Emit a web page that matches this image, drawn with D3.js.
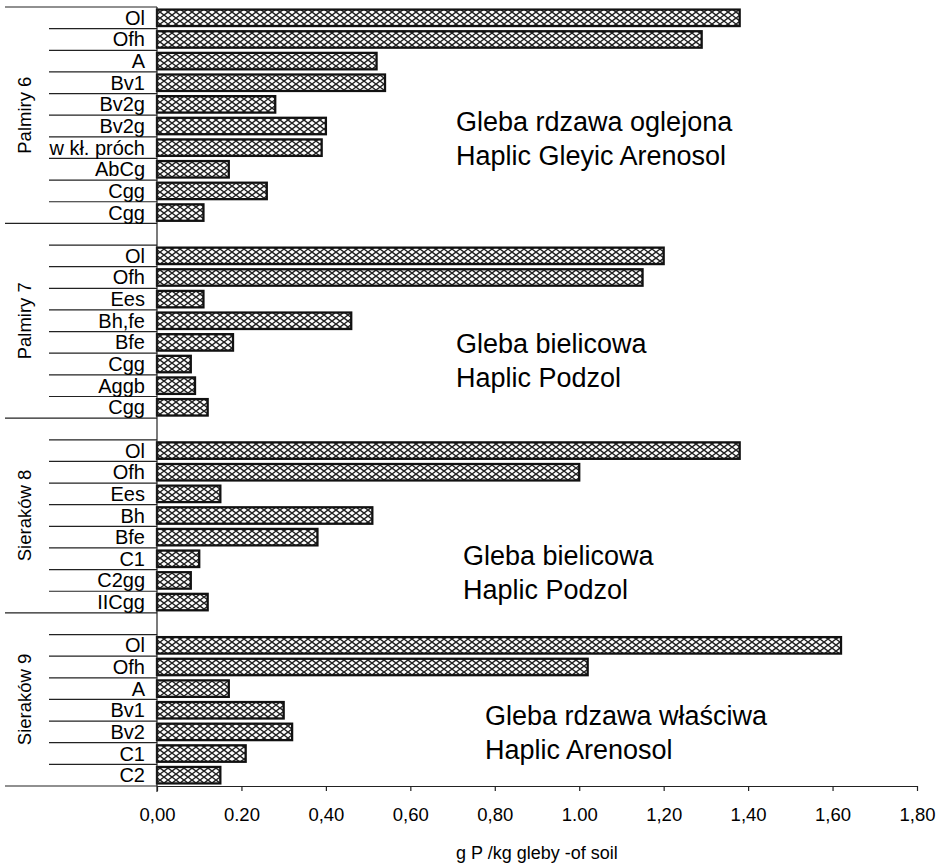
<!DOCTYPE html>
<html lang="pl">
<head>
<meta charset="UTF-8">
<title>g P/kg gleby</title>
<script src="https://cdn.jsdelivr.net/npm/d3@7"></script>
<style>
    body { margin: 0; background: #fff; }
    svg { display: block; font-family: "Liberation Sans", Arial, sans-serif; }
</style>
</head>
<body>
<div id="chart"></div>
<script>
// profiles (groups) and their horizons
var groupNames = ["Palmiry 6", "Palmiry 7", "Sieraków 8", "Sieraków 9"];

var horizonsP6 = ["Ol", "Ofh", "A", "Bv1", "Bv2g", "Bv2g", "w kł. próch", "AbCg", "Cgg", "Cgg"];
var valuesP6   = [1.38, 1.29, 0.52, 0.54, 0.28, 0.40, 0.39, 0.17, 0.26, 0.11];

var horizonsP7 = ["Ol", "Ofh", "Ees", "Bh,fe", "Bfe", "Cgg", "Aggb", "Cgg"];
var valuesP7   = [1.20, 1.15, 0.11, 0.46, 0.18, 0.08, 0.09, 0.12];

var horizonsS8 = ["Ol", "Ofh", "Ees", "Bh", "Bfe", "C1", "C2gg", "IICgg"];
var valuesS8   = [1.38, 1.00, 0.15, 0.51, 0.38, 0.10, 0.08, 0.12];

var horizonsS9 = ["Ol", "Ofh", "A", "Bv1", "Bv2", "C1", "C2"];
var valuesS9   = [1.62, 1.02, 0.17, 0.30, 0.32, 0.21, 0.15];

var soilPl = ["Gleba rdzawa oglejona", "Gleba bielicowa", "Gleba bielicowa", "Gleba rdzawa właściwa"];
var soilEn = ["Haplic Gleyic Arenosol", "Haplic Podzol", "Haplic Podzol", "Haplic Arenosol"];

var xTicks      = [0, 0.2, 0.4, 0.6, 0.8, 1.0, 1.2, 1.4, 1.6, 1.8];
var xTickLabels = ["0,00", "0.20", "0,40", "0,60", "0,80", "1.00", "1,20", "1,40", "1,60", "1,80"];
var xTitle = "g P /kg gleby -of soil";

var horizons = [horizonsP6, horizonsP7, horizonsS8, horizonsS9];
var values   = [valuesP6, valuesP7, valuesS8, valuesS9];

// flatten into rows; groups after the first start with an empty slot
var rows = [];
horizons.forEach(function (hs, gi) {
    if (gi > 0) rows.push({ id: "g" + gi + "-blank", group: gi, blank: true });
    hs.forEach(function (h, i) {
        rows.push({ id: "g" + gi + "-" + i, group: gi, label: h, value: values[gi][i] });
    });
});

var W = 947, H = 866;
var plotLeft = 157, plotRight = 917, plotTop = 7, plotBottom = 786;

var svg = d3.select("#chart").append("svg")
    .attr("width", W)
    .attr("height", H);

svg.append("rect").attr("width", W).attr("height", H).attr("fill", "#fff");

// crosshatch fill
var pat = svg.append("defs").append("pattern")
    .attr("id", "hatch")
    .attr("patternUnits", "userSpaceOnUse")
    .attr("width", 8).attr("height", 6);
pat.append("rect").attr("width", 8).attr("height", 6).attr("fill", "#fff");
pat.append("path").attr("d", "M0,0L8,6M0,6L8,0")
    .attr("stroke", "#222").attr("stroke-width", 1.4).attr("fill", "none");

var x = d3.scaleLinear().domain([0, 1.8]).range([plotLeft, plotRight]);
var y = d3.scaleBand().domain(rows.map(function (d) { return d.id; })).range([plotTop, plotBottom]).padding(0);
var bw = y.bandwidth();
var barH = bw * 0.76;

// bars
svg.append("g").selectAll("rect")
    .data(rows.filter(function (d) { return !d.blank; }))
    .enter().append("rect")
    .attr("x", x(0))
    .attr("y", function (d) { return y(d.id) + (bw - barH) / 2; })
    .attr("width", function (d) { return x(d.value) - x(0); })
    .attr("height", barH)
    .attr("fill", "url(#hatch)")
    .attr("stroke", "#111")
    .attr("stroke-width", 2.3);

// category axis: separators between rows, long ones between groups
var lines = svg.append("g").attr("stroke", "#222").attr("stroke-width", 1.2);
rows.forEach(function (d, i) {
    var yy = y(d.id);
    var first = (i === 0) || rows[i - 1].group !== d.group;
    lines.append("line")
        .attr("x1", first ? 5 : 49).attr("x2", plotLeft)
        .attr("y1", yy).attr("y2", yy);
});
lines.append("line").attr("x1", 5).attr("x2", plotLeft).attr("y1", plotBottom).attr("y2", plotBottom);
lines.append("line").attr("x1", plotLeft).attr("x2", plotLeft).attr("y1", plotTop).attr("y2", plotBottom + 6);

// horizon labels
svg.append("g").selectAll("text")
    .data(rows.filter(function (d) { return !d.blank; }))
    .enter().append("text")
    .attr("x", 145)
    .attr("y", function (d) { return y(d.id) + bw / 2 + 7; })
    .attr("text-anchor", "end")
    .attr("font-size", 20)
    .attr("fill", "#000")
    .text(function (d) { return d.label; });

// profile names, rotated
groupNames.forEach(function (g, gi) {
    var gr = rows.filter(function (d) { return d.group === gi; });
    var y0 = y(gr[0].id), y1 = y(gr[gr.length - 1].id) + bw;
    var cy = (y0 + y1) / 2;
    svg.append("text")
        .attr("transform", "translate(31," + cy + ") rotate(-90)")
        .attr("text-anchor", "middle")
        .attr("font-size", 18.5)
        .attr("fill", "#000")
        .text(g);
});

// value axis
var xAxis = d3.axisBottom(x)
    .tickValues(xTicks)
    .tickSize(5)
    .tickSizeOuter(0)
    .tickFormat(function (d, i) { return xTickLabels[i]; });

var ax = svg.append("g")
    .attr("transform", "translate(0," + plotBottom + ")")
    .call(xAxis);
ax.select(".domain").attr("stroke", "#222").attr("stroke-width", 1.2);
ax.selectAll(".tick line").attr("stroke", "#222").attr("stroke-width", 1.2);
ax.selectAll(".tick text")
    .attr("font-family", "\"Liberation Sans\", Arial, sans-serif")
    .attr("font-size", 18.5)
    .attr("fill", "#000")
    .attr("dy", null)
    .attr("y", 35);

svg.append("text")
    .attr("x", (plotLeft + plotRight) / 2)
    .attr("y", 859)
    .attr("text-anchor", "middle")
    .attr("font-size", 18)
    .attr("fill", "#000")
    .text(xTitle);

// soil type notes
var noteAt = [[456, 131], [456, 353], [463, 565], [485, 725]];
soilPl.forEach(function (t, i) {
    var n = svg.append("text")
        .attr("x", noteAt[i][0])
        .attr("y", noteAt[i][1])
        .attr("font-size", 27)
        .attr("fill", "#000");
    n.append("tspan").text(t);
    n.append("tspan").attr("x", noteAt[i][0]).attr("dy", 34).text(soilEn[i]);
});
</script>
</body>
</html>
